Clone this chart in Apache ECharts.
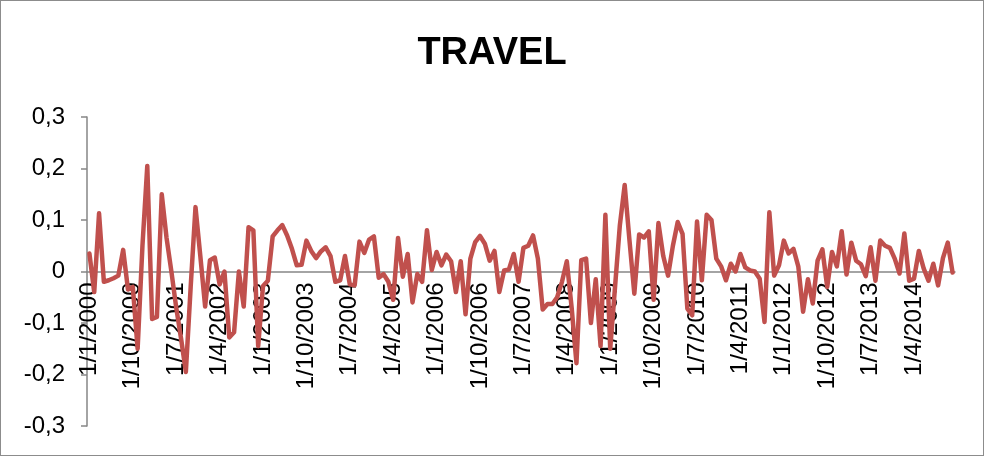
<!DOCTYPE html>
<html>
<head>
<meta charset="utf-8">
<script src="https://cdn.jsdelivr.net/npm/echarts@6/dist/echarts.min.js"></script>
<style>
  body { margin: 0; background: #fff; }
  #chart { width: 982px; height: 454px; border: 1px solid #8c8c8c; }
</style>
</head>
<body>
<div id="chart"></div>
<script>
  // monthly categories, 1/1/2000 .. 1/12/2014 (d/m/yyyy like the sheet)
  var months = [];
  for (var y = 2000; y <= 2014; y++) {
    for (var m = 1; m <= 12; m++) {
      months.push('1/' + m + '/' + y);
    }
  }

  // values, one per month
  var travel = [
    0.035, -0.04, 0.113, -0.02, -0.017, -0.013, -0.008, 0.042, -0.035, -0.03, -0.15, 0.05,
    0.205, -0.092, -0.088, 0.15, 0.065, 0.0, -0.07, -0.13, -0.195, -0.03, 0.125, 0.03,
    -0.068, 0.022, 0.027, -0.025, 0.0, -0.128, -0.118, 0.0, -0.068, 0.086, 0.08, -0.145,
    -0.028, -0.018, 0.068, 0.08, 0.09, 0.07, 0.044, 0.012, 0.013, 0.06, 0.04, 0.026,
    0.039, 0.047, 0.03, -0.02, -0.017, 0.03, -0.025, -0.027, 0.058, 0.036, 0.062, 0.068,
    -0.012, -0.005, -0.02, -0.055, 0.065, -0.01, 0.034, -0.06, -0.005, -0.02, 0.08, 0.003,
    0.038, 0.012, 0.033, 0.02, -0.04, 0.02, -0.083, 0.025, 0.057, 0.069, 0.054, 0.021,
    0.04, -0.04, 0.002, 0.004, 0.034, -0.02, 0.046, 0.05, 0.07, 0.025, -0.074, -0.063,
    -0.063, -0.05, -0.02, 0.02, -0.07, -0.178, 0.022, 0.025, -0.1, -0.015, -0.145, 0.11,
    -0.15, -0.03, 0.09, 0.168, 0.06, -0.043, 0.072, 0.066, 0.078, -0.055, 0.094, 0.03,
    -0.008, 0.05, 0.096, 0.073, -0.072, -0.085, 0.097, -0.017, 0.11, 0.1, 0.025, 0.01,
    -0.017, 0.015, 0.0, 0.034, 0.008, 0.002, 0.0, -0.014, -0.098, 0.115, -0.008, 0.012,
    0.06, 0.035, 0.044, 0.01, -0.078, -0.015, -0.062, 0.021, 0.043, -0.03, 0.038, 0.01,
    0.078, -0.006, 0.056, 0.021, 0.014, -0.009, 0.047, -0.018, 0.06, 0.05, 0.046, 0.025,
    -0.004, 0.074, -0.018, -0.014, 0.04, 0.006, -0.018, 0.015, -0.027, 0.026, 0.056, -0.002
  ];

  var yTicks = [-0.3, -0.2, -0.1, 0, 0.1, 0.2, 0.3];

  var axisGrey = '#868686';
  var font = 'Liberation Sans, Arial, sans-serif';

  // plot box (inside the 1px border)
  var gridTop = 116, gridBottom = 29;
  var gridHeight = 454 - gridTop - gridBottom;

  var myChart = echarts.init(document.getElementById('chart'));
  myChart.setOption({
    animation: false,
    title: {
      text: 'TRAVEL',
      left: 'center',
      top: 29,
      textStyle: { fontFamily: font, fontSize: 38, fontWeight: 'bold', color: '#000' }
    },
    grid: {
      left: 86, right: 28, top: gridTop, bottom: gridBottom,
      containLabel: false,
      outerBoundsMode: 'none'
    },
    xAxis: {
      type: 'category',
      data: months,
      boundaryGap: true,
      // category axis sits on the zero line, labels hang below it
      offset: -gridHeight / 2,
      axisLine: { onZero: false, lineStyle: { color: axisGrey, width: 1.5 } },
      axisTick: { interval: 8, length: 6, lineStyle: { color: axisGrey, width: 1.5 } },
      axisLabel: {
        interval: 8,
        rotate: 90,
        margin: 11,
        fontFamily: font,
        fontSize: 24,
        color: '#000'
      },
      splitLine: { show: false }
    },
    yAxis: {
      type: 'value',
      min: yTicks[0],
      max: yTicks[yTicks.length - 1],
      interval: 0.1,
      axisLine: { show: true, lineStyle: { color: axisGrey, width: 1.5 } },
      axisTick: { show: true, length: 6, lineStyle: { color: axisGrey, width: 1.5 } },
      axisLabel: {
        margin: 22,
        fontFamily: font,
        fontSize: 24,
        color: '#000',
        formatter: function (v) {
          var r = Math.round(v * 10) / 10;
          return r === 0 ? '0' : r.toFixed(1).replace('.', ',');
        }
      },
      splitLine: { show: false }
    },
    series: [
      {
        name: 'TRAVEL',
        type: 'line',
        data: travel,
        showSymbol: false,
        z: 5,
        lineStyle: { color: '#C0504D', width: 4.5, join: 'round', cap: 'round' },
        itemStyle: { color: '#C0504D' }
      }
    ]
  });
</script>
</body>
</html>
